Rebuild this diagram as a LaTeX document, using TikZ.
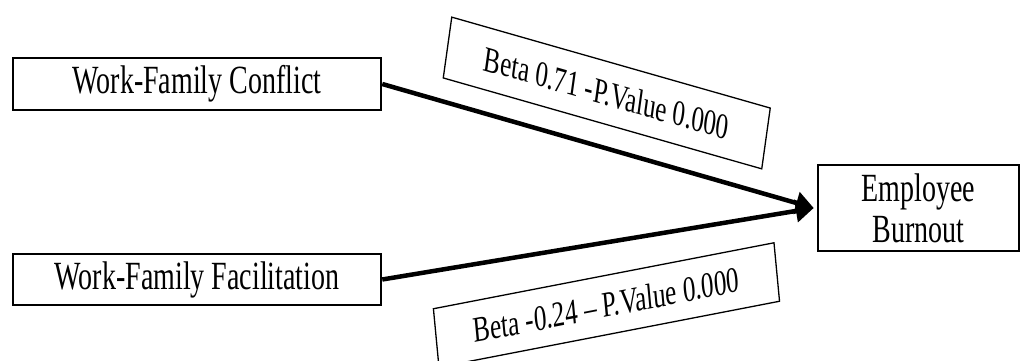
\documentclass[tikz,border=0pt]{standalone}
\usepackage{fontspec}
\setmainfont[FakeStretch=0.7]{Liberation Serif}
\newfontfamily\lblfont{Liberation Serif}
\usetikzlibrary{arrows.meta}
\begin{document}
\begin{tikzpicture}[x=1pt,y=-1pt,
  box/.style={draw, line width=2.5pt, inner sep=0pt, align=center,
    font=\fontsize{40}{41}\selectfont},
  lbl/.style={draw, line width=1.3pt, inner sep=0pt, transform shape,
    font=\lblfont\fontsize{36}{40}\selectfont},
  conn/.style={line width=4.5pt, -{Triangle[length=18pt,width=22pt]}}]
\useasboundingbox (0,0) rectangle (1021,361);
\clip (0,0) rectangle (1021,361);
\node[box, minimum width=368pt, minimum height=52pt] (wfc) at (197,84) {Work-Family Conflict};
\node[box, minimum width=368pt, minimum height=51pt] (wff) at (197,279.5) {Work-Family Facilitation};
\node[box, minimum width=201pt, minimum height=86pt] (burn) at (918.5,208) {Employee\\Burnout};
\coordinate (tip) at ([xshift=-3pt]burn.west);
\draw[conn] (wfc.east) -- (tip);
\draw[conn] (wff.east) -- (tip);
\begin{scope}[xscale=0.7]
\node[lbl, rotate=-11.3, minimum width=464pt, minimum height=62pt] (l1) at (866.8,93) {Beta 0.71 -P.Value 0.000};
\node[lbl, rotate=7.72, minimum width=491pt, minimum height=59pt] (l2) at (866.4,305) {Beta -0.24 – P.Value 0.000};
\end{scope}
\end{tikzpicture}
\end{document}
